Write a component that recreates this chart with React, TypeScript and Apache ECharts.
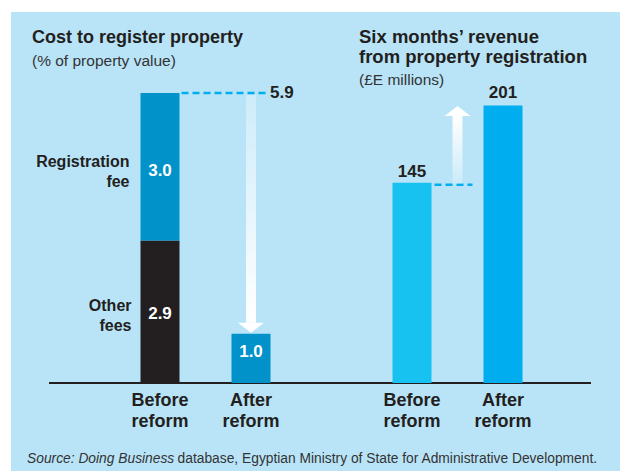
import React, { useEffect, useRef } from "react";
import * as echarts from "echarts";

// ---- data ----
const costCategories = ["Before\nreform", "After\nreform"];
const otherFees = [2.9, "-"];
const registrationFee = [3.0, "-"];
const afterReformCost = ["-", 1.0];
const costBeforeTotal = 5.9;

const revenueCategories = ["Before\nreform", "After\nreform"];
const revenueBefore = [145, "-"];
const revenueAfter = ["-", 201];

const leftTitle = "Cost to register property";
const leftSubtitle = "(% of property value)";
const rightTitle = "Six months\u2019 revenue\nfrom property registration";
const rightSubtitle = "(\u00a3E millions)";

const FONT = "'Liberation Sans', Arial, sans-serif";
const DARK = "#231F20";
const BAR_W = 39;

export default function App() {
  const ref = useRef<HTMLDivElement>(null);

  useEffect(() => {
    document.body.style.margin = "0";
    const chart = echarts.init(ref.current!, null, { renderer: "svg" });

    const catAxis = (gridIndex: number, data: string[]) => ({
      type: "category",
      gridIndex,
      data,
      axisLine: { show: false },
      axisTick: { show: false },
      axisLabel: {
        color: DARK,
        fontFamily: FONT,
        fontWeight: "bold",
        fontSize: 18,
        lineHeight: 21,
        margin: 6,
      },
    });

    const insideLabel = (extra: any) => ({
      show: true,
      color: "#fff",
      fontFamily: FONT,
      fontWeight: "bold",
      fontSize: 17,
      formatter: (p: any) => Number(p.value).toFixed(1),
      ...extra,
    });

    chart.setOption({
      animation: false,
      backgroundColor: "transparent",
      textStyle: { fontFamily: FONT },
      grid: [
        { left: 114.5, width: 182, top: 88, height: 295 },
        { left: 366.5, width: 182, top: 93, height: 290 },
      ],
      xAxis: [catAxis(0, costCategories), catAxis(1, revenueCategories)],
      yAxis: [
        { type: "value", gridIndex: 0, min: 0, max: 6, show: false },
        { type: "value", gridIndex: 1, min: 0, max: 210, show: false },
      ],
      series: [
        {
          name: "Other fees",
          type: "bar",
          xAxisIndex: 0,
          yAxisIndex: 0,
          stack: "cost",
          barWidth: BAR_W,
          data: otherFees,
          itemStyle: { color: DARK },
          label: insideLabel({ position: "inside", offset: [0, 2] }),
        },
        {
          name: "Registration fee",
          type: "bar",
          xAxisIndex: 0,
          yAxisIndex: 0,
          stack: "cost",
          barWidth: BAR_W,
          data: registrationFee,
          itemStyle: { color: "#0092C8" },
          label: insideLabel({ position: "inside", offset: [0, 4] }),
        },
        {
          name: "After reform",
          type: "bar",
          xAxisIndex: 0,
          yAxisIndex: 0,
          stack: "cost",
          barWidth: BAR_W,
          data: afterReformCost,
          itemStyle: { color: "#0092C8" },
          label: insideLabel({ position: "insideTop", distance: 9 }),
        },
        {
          name: "Revenue before",
          type: "bar",
          xAxisIndex: 1,
          yAxisIndex: 1,
          stack: "rev",
          barWidth: BAR_W,
          data: revenueBefore,
          itemStyle: { color: "#17C1F0" },
          label: {
            show: true,
            position: "top",
            distance: 3,
            color: DARK,
            fontFamily: FONT,
            fontWeight: "bold",
            fontSize: 17,
          },
        },
        {
          name: "Revenue after",
          type: "bar",
          xAxisIndex: 1,
          yAxisIndex: 1,
          stack: "rev",
          barWidth: BAR_W,
          data: revenueAfter,
          itemStyle: { color: "#00AEEF" },
          label: {
            show: true,
            position: "top",
            distance: 4,
            color: DARK,
            fontFamily: FONT,
            fontWeight: "bold",
            fontSize: 17,
          },
        },
      ],
    });

    // annotation positions derived from the axes
    const px = (g: number, v: [number, number]) =>
      chart.convertToPixel({ gridIndex: g } as any, v) as number[];
    const half = BAR_W / 2;

    const beforeTop = px(0, [0, costBeforeTotal]);
    const afterTop = px(0, [1, afterReformCost[1] as number]);
    const base = px(0, [0, 0]);
    const otherTop = px(0, [0, otherFees[0] as number]);

    const revBefore = px(1, [0, revenueBefore[0] as number]);
    const revAfter = px(1, [1, revenueAfter[1] as number]);

    const dash = { stroke: "#00AEEF", lineWidth: 2.5, lineDash: [7, 4] };

    // left arrow
    const la = afterTop[0];
    const lTip = afterTop[1] - 1;
    const lHead = lTip - 10;
    const lShaftTop = beforeTop[1] + 2;

    // right arrow
    const ra = (revBefore[0] + revAfter[0]) / 2;
    const rTip = revAfter[1] + 0.5;
    const rHead = rTip + 10;
    const rShaftBottom = revBefore[1] + 1;

    const txt = (text: string, x: number, y: number, o: any = {}) => ({
      type: "text",
      silent: true,
      style: {
        text,
        x,
        y,
        fill: DARK,
        fontFamily: FONT,
        fontSize: 16,
        fontWeight: "bold",
        verticalAlign: "middle",
        ...o,
      },
    });

    chart.setOption({
      graphic: [
        // baseline
        {
          type: "line",
          silent: true,
          shape: { x1: 49, y1: base[1], x2: 591, y2: base[1] },
          style: { stroke: DARK, lineWidth: 2 },
        },
        // left dashed guide
        {
          type: "line",
          silent: true,
          shape: {
            x1: beforeTop[0] + half + 2,
            y1: beforeTop[1],
            x2: afterTop[0] + 17,
            y2: beforeTop[1],
          },
          style: dash,
        },
        txt(costBeforeTotal.toFixed(1), afterTop[0] + 19, beforeTop[1], {
          fontSize: 17,
        }),
        // left arrow (down)
        {
          type: "rect",
          silent: true,
          shape: { x: la - 5, y: lShaftTop, width: 10, height: lHead - lShaftTop },
          style: {
            fill: new echarts.graphic.LinearGradient(0, 0, 0, 1, [
              { offset: 0, color: "rgba(255,255,255,0.3)" },
              { offset: 1, color: "rgba(255,255,255,1)" },
            ]),
          },
        },
        {
          type: "polygon",
          silent: true,
          shape: { points: [[la - 13, lHead], [la + 13, lHead], [la, lTip]] },
          style: { fill: "#fff" },
        },
        // right dashed guide
        {
          type: "line",
          silent: true,
          shape: {
            x1: revBefore[0] + half + 3,
            y1: revBefore[1] + 2,
            x2: revAfter[0] - half - 11,
            y2: revBefore[1] + 2,
          },
          style: dash,
        },
        // right arrow (up)
        {
          type: "rect",
          silent: true,
          shape: { x: ra - 5, y: rHead, width: 10, height: rShaftBottom - rHead },
          style: {
            fill: new echarts.graphic.LinearGradient(0, 0, 0, 1, [
              { offset: 0, color: "rgba(255,255,255,1)" },
              { offset: 1, color: "rgba(255,255,255,0.25)" },
            ]),
          },
        },
        {
          type: "polygon",
          silent: true,
          shape: { points: [[ra - 13, rHead], [ra + 13, rHead], [ra, rTip]] },
          style: { fill: "#fff" },
        },
        // segment names
        txt(
          "Registration\nfee",
          beforeTop[0] - half - 11,
          (beforeTop[1] + otherTop[1]) / 2 + 5,
          { align: "right", lineHeight: 20 }
        ),
        txt(
          "Other\nfees",
          beforeTop[0] - half - 9,
          (otherTop[1] + base[1]) / 2 + 4,
          { align: "right", lineHeight: 20 }
        ),
        // titles
        txt(leftTitle, 32, 37, { fontSize: 18 }),
        txt(leftSubtitle, 32, 60.5, { fontSize: 15.5, fontWeight: "normal", fill: "#333" }),
        txt(rightTitle, 359, 46, { fontSize: 18.5, lineHeight: 20 }),
        txt(rightSubtitle, 359, 79.5, { fontSize: 15.5, fontWeight: "normal", fill: "#333" }),
        // source
        {
          type: "text",
          silent: true,
          style: {
            x: 27,
            y: 458,
            verticalAlign: "middle",
            text: "{i|Source: Doing Business} {r|database, Egyptian Ministry of State for Administrative Development.}",
            rich: {
              i: { fontFamily: FONT, fontSize: 13.8, fontStyle: "italic", fill: "#333" },
              r: { fontFamily: FONT, fontSize: 13.8, fill: "#333" },
            },
          },
        },
      ],
    });

    return () => chart.dispose();
  }, []);

  return (
    <div style={{ position: "relative", width: 620, height: 471, background: "#fff", overflow: "hidden" }}>
      <div
        style={{
          position: "absolute",
          left: 11,
          top: 12,
          right: 0,
          bottom: 0,
          background: "#B9E4F8",
        }}
      />
      <div ref={ref} style={{ position: "absolute", left: 0, top: 0, width: 620, height: 471 }} />
    </div>
  );
}
